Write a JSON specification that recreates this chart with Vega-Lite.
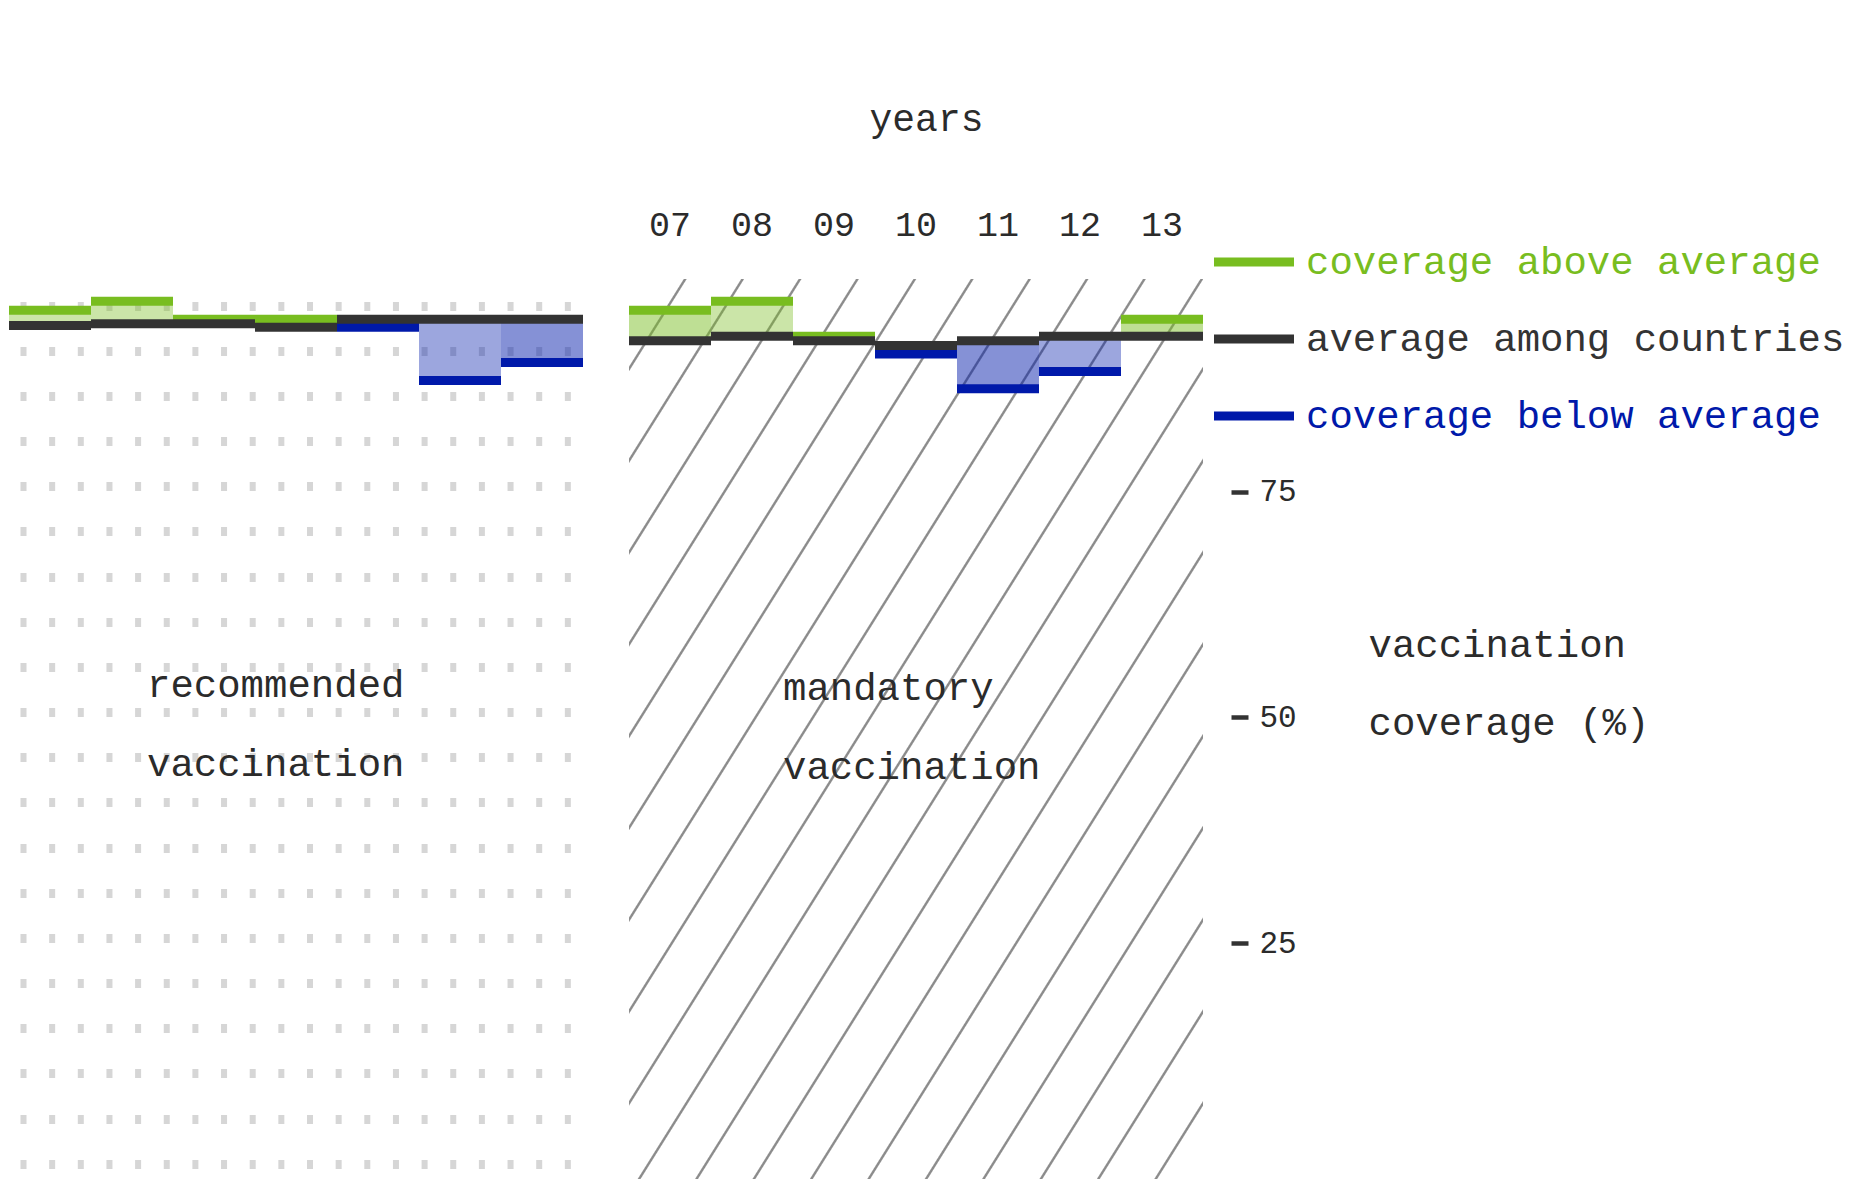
{
  "$schema": "https://vega.github.io/schema/vega-lite/v6.json",
  "autosize": {"type": "none"},
  "padding": {"left": 9, "top": 279, "right": 1851, "bottom": 900},
  "background": "white",
  "config": {
    "font": "Liberation Mono",
    "view": {"stroke": null},
    "axis": {"labelFont": "Liberation Mono", "titleFont": "Liberation Mono"},
    "legend": {"labelFont": "Liberation Mono"}
  },
  "datasets": {
    "coverage": [
      {"panel": "recommended", "year": "07", "series": "coverage above average", "coverage": 95.1, "average": 93.4},
      {"panel": "recommended", "year": "08", "series": "coverage above average", "coverage": 96.1, "average": 93.6},
      {"panel": "recommended", "year": "09", "series": "coverage above average", "coverage": 94.1, "average": 93.6},
      {"panel": "recommended", "year": "10", "series": "coverage above average", "coverage": 94.1, "average": 93.2},
      {"panel": "recommended", "year": "11", "series": "coverage below average", "coverage": 93.2, "average": 94.1},
      {"panel": "recommended", "year": "12", "series": "coverage below average", "coverage": 87.3, "average": 94.1},
      {"panel": "recommended", "year": "13", "series": "coverage below average", "coverage": 89.3, "average": 94.1},
      {"panel": "mandatory", "year": "07", "series": "coverage above average", "coverage": 95.1, "average": 91.7},
      {"panel": "mandatory", "year": "08", "series": "coverage above average", "coverage": 96.1, "average": 92.2},
      {"panel": "mandatory", "year": "09", "series": "coverage above average", "coverage": 92.2, "average": 91.7},
      {"panel": "mandatory", "year": "10", "series": "coverage below average", "coverage": 90.25, "average": 91.2},
      {"panel": "mandatory", "year": "11", "series": "coverage below average", "coverage": 86.4, "average": 91.7},
      {"panel": "mandatory", "year": "12", "series": "coverage below average", "coverage": 88.3, "average": 92.2},
      {"panel": "mandatory", "year": "13", "series": "coverage above average", "coverage": 94.1, "average": 92.2}
    ]
  },
  "spacing": 46,
  "bounds": "flush",
  "resolve": {
    "scale": {"x": "independent", "y": "independent", "color": "shared"},
    "axis": {"x": "independent", "y": "independent"},
    "legend": {"color": "shared"}
  },
  "hconcat": [
    {
      "width": 574,
      "height": 918,
      "layer": [
        {
          "data": {"name": "coverage"},
          "transform": [{"filter": "datum.panel === 'recommended'"}],
          "mark": {"type": "bar", "stroke": null},
          "encoding": {
            "x": {"field": "year", "type": "ordinal", "scale": {"paddingInner": 0, "paddingOuter": 0}, "axis": null},
            "y": {
              "field": "coverage", "type": "quantitative",
              "scale": {"domain": [-3.09, 98.55], "nice": false, "zero": false},
              "axis": {
                "orient": "left", "labels": false, "ticks": false, "domain": false, "title": null,
                "grid": true, "gridColor": "#d6d6d6", "gridOpacity": 1, "gridWidth": 9,
                "gridDash": [6, 22.65], "gridDashOffset": 17.65,
                "values": [95.6, 90.6, 85.6, 80.6, 75.6, 70.6, 65.6, 60.6, 55.6, 50.6, 45.6, 40.6, 35.6, 30.6, 25.6, 20.6, 15.6, 10.6, 5.6, 0.6]
              }
            },
            "y2": {"field": "average"},
            "color": {
              "field": "series", "type": "nominal",
              "scale": {
                "domain": ["coverage above average", "average among countries", "coverage below average"],
                "range": ["#78bd20", "#333333", "#0019aa"]
              }
            },
            "fillOpacity": {
              "condition": {"test": "(datum.panel === 'mandatory' && (datum.year === '07' || datum.year === '11' || datum.year === '13')) || (datum.panel === 'recommended' && datum.year === '13')", "value": 0.48},
              "value": 0.39
            }
          }
        },
        {
          "data": {"name": "coverage"},
          "transform": [{"filter": "datum.panel === 'recommended'"}],
          "mark": {"type": "tick", "orient": "horizontal", "thickness": 9, "size": 82, "opacity": 1},
          "encoding": {
            "x": {"field": "year", "type": "ordinal"},
            "y": {"field": "coverage", "type": "quantitative"},
            "color": {
              "field": "series", "type": "nominal",
              "legend": {
                "title": null, "orient": "none", "legendX": 1205, "legendY": -57,
                "padding": 0, "offset": 0,
                "symbolType": "M-1,-0.1125H1V0.1125H-1Z", "symbolSize": 6400, "symbolStrokeWidth": 0,
                "symbolOpacity": 1,
                "labelColor": {"expr": "datum.value === 'coverage above average' ? '#78bd20' : datum.value === 'coverage below average' ? '#0019aa' : '#333333'"},
                "labelFontSize": 39, "labelOffset": 12, "labelLimit": 0, "rowPadding": 17
              }
            }
          }
        },
        {
          "data": {"name": "coverage"},
          "transform": [{"filter": "datum.panel === 'recommended'"}],
          "mark": {"type": "tick", "orient": "horizontal", "thickness": 9, "size": 82, "opacity": 1},
          "encoding": {
            "x": {"field": "year", "type": "ordinal"},
            "y": {"field": "average", "type": "quantitative"},
            "color": {"datum": "average among countries", "type": "nominal"}
          }
        },
        {
          "data": {"values": [{}]},
          "mark": {"type": "text", "align": "left", "baseline": "alphabetic", "fontSize": 39, "lineHeight": 79, "color": "#2b2b2b", "dx": 15},
          "encoding": {
            "x": {"datum": "08", "type": "ordinal"},
            "y": {"datum": 52.27, "type": "quantitative"},
            "text": {"value": ["recommended", "vaccination"]}
          }
        }
      ]
    },
    {
      "width": 574,
      "height": 918,
      "layer": [
        {
          "data": {"values": [{}]},
          "mark": {
            "type": "rect", "stroke": null,
            "color": {
              "gradient": "linear", "x1": 0, "y1": 0, "x2": 1, "y2": 1,
              "stops": [
                {"offset": 0, "color": "#ffffff"},
                {"offset": 0.0472, "color": "#ffffff"}, {"offset": 0.0483, "color": "#8c8c8c"}, {"offset": 0.0497, "color": "#8c8c8c"}, {"offset": 0.0508, "color": "#ffffff"},
                {"offset": 0.0972, "color": "#ffffff"}, {"offset": 0.0983, "color": "#8c8c8c"}, {"offset": 0.0997, "color": "#8c8c8c"}, {"offset": 0.1008, "color": "#ffffff"},
                {"offset": 0.1472, "color": "#ffffff"}, {"offset": 0.1483, "color": "#8c8c8c"}, {"offset": 0.1497, "color": "#8c8c8c"}, {"offset": 0.1508, "color": "#ffffff"},
                {"offset": 0.1972, "color": "#ffffff"}, {"offset": 0.1983, "color": "#8c8c8c"}, {"offset": 0.1997, "color": "#8c8c8c"}, {"offset": 0.2008, "color": "#ffffff"},
                {"offset": 0.2472, "color": "#ffffff"}, {"offset": 0.2483, "color": "#8c8c8c"}, {"offset": 0.2497, "color": "#8c8c8c"}, {"offset": 0.2508, "color": "#ffffff"},
                {"offset": 0.2972, "color": "#ffffff"}, {"offset": 0.2983, "color": "#8c8c8c"}, {"offset": 0.2997, "color": "#8c8c8c"}, {"offset": 0.3008, "color": "#ffffff"},
                {"offset": 0.3472, "color": "#ffffff"}, {"offset": 0.3483, "color": "#8c8c8c"}, {"offset": 0.3497, "color": "#8c8c8c"}, {"offset": 0.3508, "color": "#ffffff"},
                {"offset": 0.3972, "color": "#ffffff"}, {"offset": 0.3983, "color": "#8c8c8c"}, {"offset": 0.3997, "color": "#8c8c8c"}, {"offset": 0.4008, "color": "#ffffff"},
                {"offset": 0.4472, "color": "#ffffff"}, {"offset": 0.4483, "color": "#8c8c8c"}, {"offset": 0.4497, "color": "#8c8c8c"}, {"offset": 0.4508, "color": "#ffffff"},
                {"offset": 0.4972, "color": "#ffffff"}, {"offset": 0.4983, "color": "#8c8c8c"}, {"offset": 0.4997, "color": "#8c8c8c"}, {"offset": 0.5008, "color": "#ffffff"},
                {"offset": 0.5472, "color": "#ffffff"}, {"offset": 0.5483, "color": "#8c8c8c"}, {"offset": 0.5497, "color": "#8c8c8c"}, {"offset": 0.5508, "color": "#ffffff"},
                {"offset": 0.5972, "color": "#ffffff"}, {"offset": 0.5983, "color": "#8c8c8c"}, {"offset": 0.5997, "color": "#8c8c8c"}, {"offset": 0.6008, "color": "#ffffff"},
                {"offset": 0.6472, "color": "#ffffff"}, {"offset": 0.6483, "color": "#8c8c8c"}, {"offset": 0.6497, "color": "#8c8c8c"}, {"offset": 0.6508, "color": "#ffffff"},
                {"offset": 0.6972, "color": "#ffffff"}, {"offset": 0.6983, "color": "#8c8c8c"}, {"offset": 0.6997, "color": "#8c8c8c"}, {"offset": 0.7008, "color": "#ffffff"},
                {"offset": 0.7472, "color": "#ffffff"}, {"offset": 0.7483, "color": "#8c8c8c"}, {"offset": 0.7497, "color": "#8c8c8c"}, {"offset": 0.7508, "color": "#ffffff"},
                {"offset": 0.7972, "color": "#ffffff"}, {"offset": 0.7983, "color": "#8c8c8c"}, {"offset": 0.7997, "color": "#8c8c8c"}, {"offset": 0.8008, "color": "#ffffff"},
                {"offset": 0.8472, "color": "#ffffff"}, {"offset": 0.8483, "color": "#8c8c8c"}, {"offset": 0.8497, "color": "#8c8c8c"}, {"offset": 0.8508, "color": "#ffffff"},
                {"offset": 0.8972, "color": "#ffffff"}, {"offset": 0.8983, "color": "#8c8c8c"}, {"offset": 0.8997, "color": "#8c8c8c"}, {"offset": 0.9008, "color": "#ffffff"},
                {"offset": 0.9472, "color": "#ffffff"}, {"offset": 0.9483, "color": "#8c8c8c"}, {"offset": 0.9497, "color": "#8c8c8c"}, {"offset": 0.9508, "color": "#ffffff"},
                {"offset": 1, "color": "#ffffff"}
              ]
            }
          },
          "encoding": {}
        },
        {
          "data": {"name": "coverage"},
          "transform": [{"filter": "datum.panel === 'mandatory'"}],
          "mark": {"type": "bar", "stroke": null},
          "encoding": {
            "x": {
              "field": "year", "type": "ordinal", "scale": {"paddingInner": 0, "paddingOuter": 0},
              "axis": {
                "orient": "top", "domain": false, "ticks": false, "tickSize": 0, "grid": false,
                "labelAngle": 0, "labelBaseline": "alphabetic", "labelPadding": 44,
                "labelFontSize": 35, "labelColor": "#2b2b2b",
                "title": "years", "titleFontSize": 38, "titleFontWeight": "normal", "titleColor": "#2b2b2b",
                "titleBaseline": "alphabetic", "titleAlign": "center", "titleX": 297, "titleY": -149
              }
            },
            "y": {
              "field": "coverage", "type": "quantitative",
              "scale": {"domain": [-3.09, 98.55], "nice": false, "zero": false},
              "axis": {
                "orient": "right", "values": [25, 50, 75], "domain": false, "grid": false,
                "offset": 28, "tickSize": 17, "tickWidth": 4.5, "tickColor": "#333333",
                "labelPadding": 11, "labelFontSize": 31, "labelColor": "#2b2b2b",
                "title": ["vaccination", "coverage (%)"], "titleAngle": 0, "titleAlign": "left",
                "titleBaseline": "alphabetic", "titleX": 137, "titleY": 377,
                "titleFontSize": 39, "titleFontWeight": "normal", "titleLineHeight": 78, "titleColor": "#2b2b2b"
              }
            },
            "y2": {"field": "average"},
            "color": {"field": "series", "type": "nominal"},
            "fillOpacity": {
              "condition": {"test": "(datum.panel === 'mandatory' && (datum.year === '07' || datum.year === '11' || datum.year === '13')) || (datum.panel === 'recommended' && datum.year === '13')", "value": 0.48},
              "value": 0.39
            }
          }
        },
        {
          "data": {"name": "coverage"},
          "transform": [{"filter": "datum.panel === 'mandatory'"}],
          "mark": {"type": "tick", "orient": "horizontal", "thickness": 9, "size": 82, "opacity": 1},
          "encoding": {
            "x": {"field": "year", "type": "ordinal"},
            "y": {"field": "coverage", "type": "quantitative"},
            "color": {"field": "series", "type": "nominal"}
          }
        },
        {
          "data": {"name": "coverage"},
          "transform": [{"filter": "datum.panel === 'mandatory'"}],
          "mark": {"type": "tick", "orient": "horizontal", "thickness": 9, "size": 82, "opacity": 1},
          "encoding": {
            "x": {"field": "year", "type": "ordinal"},
            "y": {"field": "average", "type": "quantitative"},
            "color": {"datum": "average among countries", "type": "nominal"}
          }
        },
        {
          "data": {"values": [{}]},
          "mark": {"type": "text", "align": "left", "baseline": "alphabetic", "fontSize": 39, "lineHeight": 79, "color": "#2b2b2b", "dx": -51},
          "encoding": {
            "x": {"datum": "09", "type": "ordinal"},
            "y": {"datum": 51.94, "type": "quantitative"},
            "text": {"value": ["mandatory", "vaccination"]}
          }
        }
      ]
    }
  ]
}
